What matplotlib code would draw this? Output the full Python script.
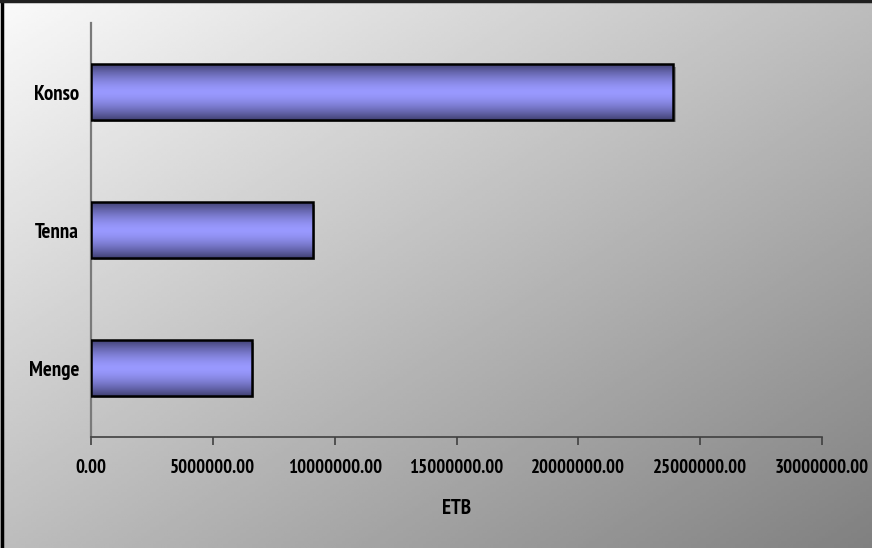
import matplotlib
matplotlib.use('Agg')
import matplotlib.pyplot as plt
import matplotlib.transforms as mtransforms
from matplotlib.patches import Rectangle
from matplotlib import font_manager
import numpy as np

# Expenditure per woreda (ETB)
woredas = ['Menge', 'Tenna', 'Konso']
amounts = [6600000, 9100000, 23900000]
xticks = [0, 5000000, 10000000, 15000000, 20000000, 25000000, 30000000]

# prefer a narrow sans that ships a real bold face
bold_names = {f.name for f in font_manager.fontManager.ttflist
              if f.weight == 700 and '[' not in f.fname and 'Italic' not in f.fname}
candidates = ['Liberation Sans Narrow', 'Arial Narrow', 'Archivo Narrow', 'PT Sans Narrow',
              'Roboto Condensed', 'IBM Plex Sans Condensed', 'Liberation Sans']
family = [c for c in candidates if c in bold_names][:1] or ['DejaVu Sans']
plt.rcParams['font.family'] = family + ['DejaVu Sans']
plt.rcParams['font.weight'] = 'bold'

W, H = 872, 548
fig = plt.figure(figsize=(W / 100, H / 100), dpi=100)


def fit_size(text, target_px):
    # font size that makes the text about target_px wide
    renderer = fig.canvas.get_renderer()
    probe = fig.text(0, 0, text, fontsize=10, fontweight='bold')
    width = probe.get_window_extent(renderer).width
    probe.remove()
    return 10 * target_px / width


tick_fs = min(14.5, fit_size('5000000.00', 86))
cat_fs = min(15, fit_size('Konso', 48))
label_fs = min(15, fit_size('ETB', 34))

# diagonal grey background, light at top-left, dark at bottom-right
bg = fig.add_axes([0, 0, 1, 1], zorder=-2)
gx, gy = np.meshgrid(np.linspace(0, 1, 300), np.linspace(0, 1, 200))
shade = (250 - 61 * (gx + gy)) / 255.0
bg.imshow(shade, cmap='gray', vmin=0, vmax=1, aspect='auto', extent=(0, 1, 1, 0))
bg.plot([0.002, 0.002], [0, 1], color='black', lw=2.5, transform=bg.transAxes)
bg.plot([0, 1], [0.998, 0.998], color='#202020', lw=2.5, transform=bg.transAxes)
bg.set_xlim(0, 1)
bg.set_ylim(1, 0)
bg.axis('off')

left, right, top, bottom = 91, 822, 23, 437
ax = fig.add_axes([left / W, 1 - bottom / H, (right - left) / W, (bottom - top) / H])
ax.set_facecolor('none')

bar_h = 0.4
ypos = np.arange(len(woredas))

# vertical shading for the bars: dark at the edges, light in the middle
t = np.abs(np.linspace(-1, 1, 100))[:, None]
light = np.array([153, 153, 255]) / 255.0
dark = np.array([65, 65, 115]) / 255.0
w = t ** 1.6
grad = light * (1 - w[..., None]) + dark * w[..., None]
grad = np.repeat(grad, 2, axis=1)

shadow_tr = mtransforms.offset_copy(ax.transData, fig=fig, x=2.5, y=-2.5, units='dots')
for y, v in zip(ypos, amounts):
    ax.add_patch(Rectangle((0, y - bar_h / 2), v, bar_h, facecolor='#8a8a8a',
                           edgecolor='none', transform=shadow_tr, zorder=1))
    ax.imshow(grad, aspect='auto', extent=(0, v, y - bar_h / 2, y + bar_h / 2),
              zorder=2, interpolation='bilinear')
ax.barh(ypos, amounts, height=bar_h, facecolor='none', edgecolor='black',
        linewidth=1.8, zorder=3)

ax.set_xlim(0, 30000000)
ax.set_ylim(-0.5, len(woredas) - 0.5)
ax.set_xticks(xticks)
ax.set_xticklabels([f'{v:.2f}' for v in xticks])
ax.set_yticks(ypos)
ax.set_yticklabels(woredas)
ax.tick_params(axis='x', direction='out', length=6, width=1.2, color='#404040',
               pad=10, labelsize=tick_fs)
ax.tick_params(axis='y', length=0, pad=8.5, labelsize=cat_fs)
for s in ['top', 'right']:
    ax.spines[s].set_visible(False)
ax.spines['left'].set_color('#7a7a7a')
ax.spines['left'].set_linewidth(1.6)
ax.spines['bottom'].set_color('#404040')
ax.spines['bottom'].set_linewidth(1.2)
ax.set_xlabel('ETB', fontsize=label_fs, fontweight='bold', labelpad=16)

fig.savefig('out.png', dpi=100)
